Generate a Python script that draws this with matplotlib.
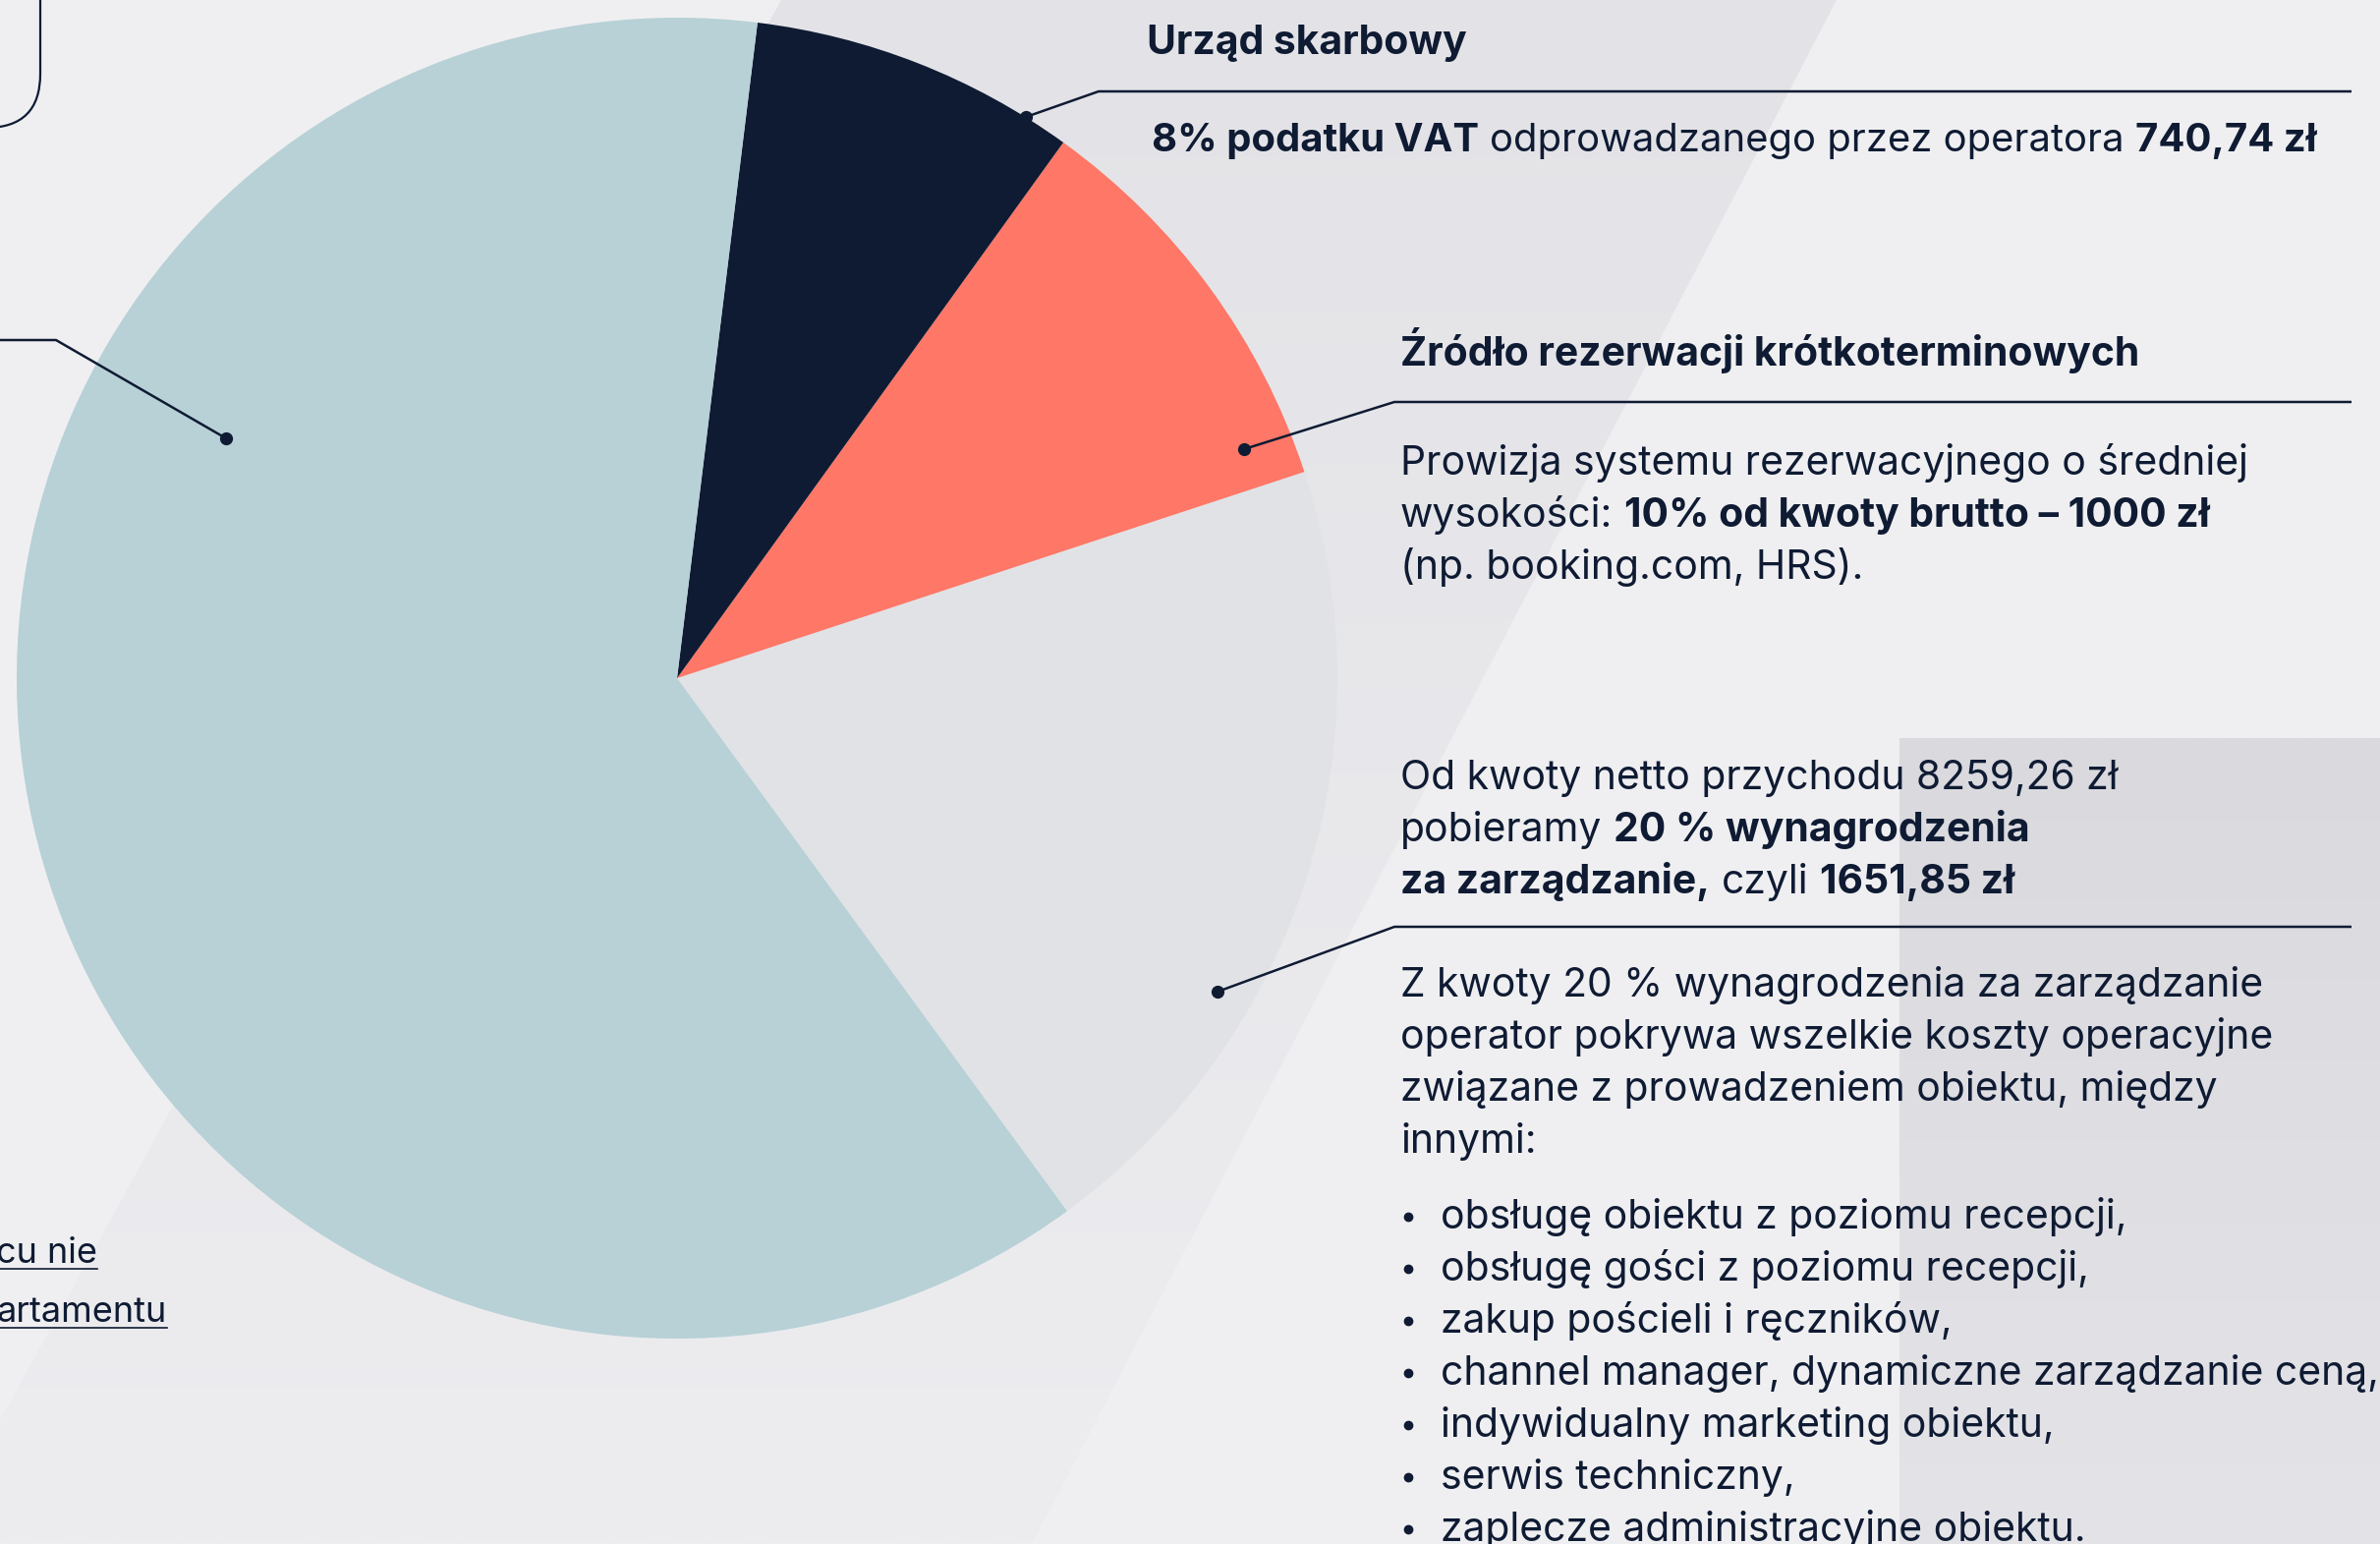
import numpy as np
import matplotlib
matplotlib.use("Agg")
import matplotlib.pyplot as plt
from matplotlib.patches import Polygon, FancyBboxPatch
from matplotlib.font_manager import FontProperties

# ── Canvas (pixel coordinates, y grows downward) ─────────────────────────────
W, H = 2422, 1571
DPI = 100

BG = "#EFEFF1"
NAVY = "#0F1B33"

# ── Data: pie shares in %, counter-clockwise from the lower-right edge ───────
slice_keys = ["wynagrodzenie", "rezerwacje", "vat", "pozostalo"]
slice_shares = [20, 10, 8, 62]
slice_colors = ["#E1E2E6", "#FF7767", "#0F1B33", "#B7D1D6"]

# ── Texts ────────────────────────────────────────────────────────────────────
vat_title = "Urząd skarbowy"
vat_line = [("8% podatku VAT", True), (" odprowadzanego przez operatora ", False),
            ("740,74 zł", True)]

booking_title = "Źródło rezerwacji krótkoterminowych"
booking_lines = [
    [("Prowizja systemu rezerwacyjnego o średniej", False)],
    [("wysokości: ", False), ("10% od kwoty brutto – 1000 zł", True)],
    [("(np. booking.com, HRS).", False)],
]

mgmt_lines = [
    [("Od kwoty netto przychodu 8259,26 zł", False)],
    [("pobieramy ", False), ("20 % wynagrodzenia", True)],
    [("za zarządzanie,", True), (" czyli ", False), ("1651,85 zł", True)],
]

cost_lines = [
    "Z kwoty 20 % wynagrodzenia za zarządzanie",
    "operator pokrywa wszelkie koszty operacyjne",
    "związane z prowadzeniem obiektu, między",
    "innymi:",
]

cost_bullets = [
    "obsługę obiektu z poziomu recepcji,",
    "obsługę gości z poziomu recepcji,",
    "zakup pościeli i ręczników,",
    "channel manager, dynamiczne zarządzanie ceną,",
    "indywidualny marketing obiektu,",
    "serwis techniczny,",
    "zaplecze administracyjne obiektu.",
]

left_links = ["cu nie", "artamentu"]

FONT = ["Inter", "DejaVu Sans"]
SIZE = 29.4

plt.rcParams["font.family"] = FONT

fig = plt.figure(figsize=(W / DPI, H / DPI), dpi=DPI, facecolor=BG)
ax = fig.add_axes([0, 0, 1, 1])
ax.set_facecolor(BG)

# ── Background shapes ────────────────────────────────────────────────────────
def gradient_fill(ax, verts, top_col, bot_col, y0, y1):
    poly = Polygon(verts, closed=True, facecolor="none", edgecolor="none")
    ax.add_patch(poly)
    c0 = np.array(matplotlib.colors.to_rgb(top_col))
    c1 = np.array(matplotlib.colors.to_rgb(bot_col))
    t = np.linspace(0, 1, 256)[:, None, None]
    grad = c0 * (1 - t) + c1 * t
    im = ax.imshow(grad, extent=[-200, W + 200, y1, y0], aspect="auto",
                   interpolation="bilinear", zorder=0)
    im.set_clip_path(poly)

gradient_fill(ax, [(795, 0), (1869, 0), (1050, H), (-69, H)],
              "#E3E3E7", "#EDEDF0", 0, H)
gradient_fill(ax, [(1933, 751), (W, 751), (W, H), (1933, H)],
              "#D9D9DE", "#E4E4E8", 751, H)

# ── Pie (y axis is inverted, so draw clockwise to read counter-clockwise) ────
ax.pie(slice_shares, colors=slice_colors, startangle=53.8, counterclock=False,
       center=(689, 690), radius=672, wedgeprops=dict(linewidth=0))

# ── Rounded frame peeking in at the top-left ─────────────────────────────────
ax.add_patch(FancyBboxPatch((-700, -400), 741, 530,
                            boxstyle="round,pad=0,rounding_size=55",
                            facecolor="none", edgecolor=NAVY, linewidth=1.6,
                            zorder=3))

# ── Leader lines ─────────────────────────────────────────────────────────────
leaders = [
    [(1044, 119), (1118, 93), (2393, 93)],
    [(1266, 457), (1419, 409), (2393, 409)],
    [(1239, 1009), (1419, 943), (2393, 943)],
    [(230, 446), (57, 346), (-10, 346)],
]
for pts in leaders:
    xs, ys = zip(*pts)
    ax.plot(xs, ys, color=NAVY, lw=1.8, solid_capstyle="butt", zorder=4)
    ax.plot(xs[0], ys[0], "o", color=NAVY, ms=8.5, zorder=5)

# ── Text helpers ─────────────────────────────────────────────────────────────
renderer = fig.canvas.get_renderer()


def text_w(s, bold, size=SIZE):
    prop = FontProperties(family=FONT, weight="bold" if bold else "normal",
                          size=size)
    w, _, _ = renderer.get_text_width_height_descent(s, prop, ismath=False)
    return w


def draw_runs(x, y, runs, size=SIZE):
    for s, bold in runs:
        lead = len(s) - len(s.lstrip(" "))
        trail = len(s) - len(s.rstrip(" "))
        core = s.strip(" ")
        sp = text_w("a a", bold, size) - text_w("aa", bold, size)
        x += lead * sp
        ax.text(x, y, core, fontsize=size, fontweight="bold" if bold else "normal",
                color=NAVY, ha="left", va="baseline", zorder=6)
        x += text_w(core, bold, size) + trail * sp


LH = 53
draw_runs(1167, 55, [(vat_title, True)])
draw_runs(1172, 154, vat_line, size=28.8)

draw_runs(1425, 372, [(booking_title, True)])
for i, runs in enumerate(booking_lines):
    draw_runs(1425, 483 + i * LH, runs)

for i, runs in enumerate(mgmt_lines):
    draw_runs(1425, 803 + i * LH, runs)

for i, line in enumerate(cost_lines):
    draw_runs(1425, 1014 + i * LH, [(line, False)])

for i, line in enumerate(cost_bullets):
    yb = 1250 + i * LH
    ax.plot(1433, yb - 12, "o", color=NAVY, ms=6, zorder=6)
    draw_runs(1466, yb, [(line, False)])

# cut-off underlined links at the left edge
for s, xr, yb in zip(left_links, [99, 170], [1285, 1345]):
    ax.text(xr, yb, s, fontsize=26, color=NAVY, ha="right", va="baseline",
            zorder=6)
    ax.plot([0, xr], [yb + 6, yb + 6], color=NAVY, lw=1.2, zorder=6)

ax.set_xlim(0, W)
ax.set_ylim(H, 0)
ax.set_aspect("auto")
ax.axis("off")

fig.savefig("out.png", dpi=DPI, facecolor=BG)
